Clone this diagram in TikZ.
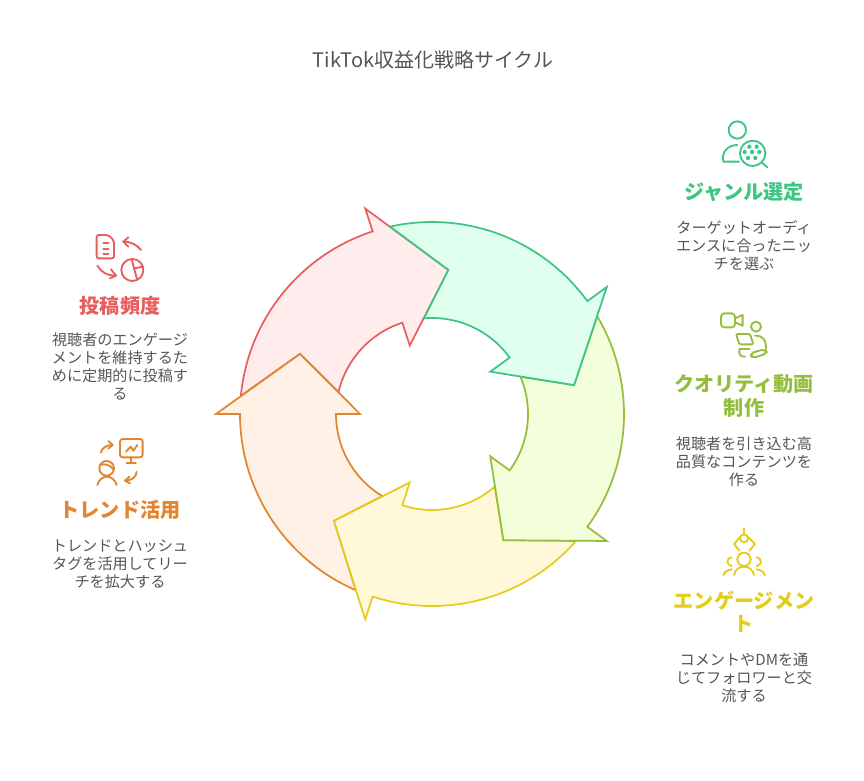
\documentclass[tikz,border=0pt]{standalone}
\usepackage{fontspec}
\setmainfont{Noto Sans CJK JP}
\definecolor{tealline}{HTML}{3CC583}
\definecolor{tealfill}{HTML}{E0FFEF}
\definecolor{limeline}{HTML}{93BE3E}
\definecolor{limefill}{HTML}{F2FFDA}
\definecolor{yelline}{HTML}{E3CC1C}
\definecolor{yelfill}{HTML}{FFF9DA}
\definecolor{orgline}{HTML}{E3842F}
\definecolor{orgfill}{HTML}{FFF1E5}
\definecolor{redline}{HTML}{E85E5E}
\definecolor{redfill}{HTML}{FFEDED}
\definecolor{bodygray}{HTML}{555555}
\tikzset{
  titletext/.style={text=bodygray,font=\fontsize{15pt}{18pt}\selectfont},
  headtext/.style={align=center,font=\fontsize{15.1pt}{17.5pt}\selectfont\bfseries},
  bodytext/.style={align=center,text=bodygray,font=\fontsize{11.35pt}{13.5pt}\selectfont},
  iconline/.style={line width=1.4pt,line cap=round,line join=round},
}

\begin{document}
\begin{tikzpicture}[x=0.75pt,y=0.75pt]
  \useasboundingbox (0,0) rectangle (864,-781);
  \node[titletext] (title) at (433,-60) {TikTok収益化戦略サイクル};

  % ring of arrows
  \foreach \ang/\col in {72/red,144/org,216/yel,288/lime,0/teal}{
    \begin{scope}[shift={(432,-414)},rotate=\ang]
      \draw[draw=\col line,fill=\col fill,line width=1.3pt,line join=miter]
        (102.6:192) arc[start angle=102.6,end angle=36,radius=192]
        -- (36:216) -- (11.5:145) -- (36:72) -- (36:96)
        arc[start angle=36,end angle=94.8,radius=96]
        -- (83.5:145) -- cycle;
    \end{scope}
  }

  % right column
  \node[headtext,text=tealline] (genrehead) at (744,-192) {ジャンル選定};
  \node[bodytext] (genrebody) at (744,-246) {ターゲットオーディ\\エンスに合ったニッ\\チを選ぶ};
  \node[headtext,text=limeline] (qualityhead) at (744,-396) {クオリティ動画\\制作};
  \node[bodytext] (qualitybody) at (744,-462) {視聴者を引き込む高\\品質なコンテンツを\\作る};
  \node[headtext,text=yelline] (engagehead) at (744,-612) {エンゲージメン\\ト};
  \node[bodytext] (engagebody) at (744,-678) {コメントやDMを通\\じてフォロワーと交\\流する};

  % left column
  \node[headtext,text=redline] (posthead) at (120,-306) {投稿頻度};
  \node[bodytext] (postbody) at (120,-366) {視聴者のエンゲージ\\メントを維持するた\\めに定期的に投稿す\\る};
  \node[headtext,text=orgline] (trendhead) at (120,-510) {トレンド活用};
  \node[bodytext] (trendbody) at (120,-564) {トレンドとハッシュ\\タグを活用してリー\\チを拡大する};

  % person with magnifier
  \begin{scope}[shift={(660,-110)},x=0.25pt,y=-0.25pt,iconline,draw=tealline]
    \draw (232,60) circle[radius=26];
    \draw (237,155) -- (190,155) .. controls (183,125) and (205,105) .. (232,105);
    \draw (278,130) circle[radius=38];
    \draw (305,157) -- (322,172);
    \foreach \dx/\dy in {268/110,290/110,254/126,276/126,298/126,264/144,286/144}
      \fill[tealline] (\dx,\dy) circle[radius=6.5];
  \end{scope}

  % camera, person at laptop
  \begin{scope}[shift={(660,-305)},x=0.25pt,y=-0.25pt,iconline,draw=limeline]
    \draw[rounded corners=2.5pt] (183,25) rectangle (225,67);
    \draw (225,40) -- (248,30) -- (248,62) -- (225,52);
    \draw (288,65) circle[radius=15];
    \draw (285,92) .. controls (310,92) and (318,105) .. (318,130);
    \draw[rounded corners=1pt] (228,87) -- (270,87) -- (280,118) -- (238,118) -- cycle;
    \draw (238,132) -- (268,132);
    \draw (238,135) .. controls (236,150) and (242,155) .. (255,155);
    \draw[rounded corners=3pt] (270,145) -- (315,132) -- (322,145) -- (277,160) -- cycle;
  \end{scope}

  % claw over people
  \begin{scope}[shift={(660,-520)},x=0.25pt,y=-0.25pt,iconline,draw=yelline]
    \draw (252,25) -- (252,43);
    \draw (252,55) circle[radius=12];
    \draw (241,50) -- (222,72) -- (238,92);
    \draw (263,50) -- (285,72) -- (268,92);
    \draw (252,118) circle[radius=20];
    \draw (222,165) .. controls (226,148) and (238,140) .. (252,140) .. controls (266,140) and (278,148) .. (282,165);
    \draw (215,112) .. controls (198,114) and (198,136) .. (215,138);
    \draw (290,112) .. controls (307,114) and (307,136) .. (290,138);
    \draw (190,165) .. controls (195,155) and (203,150) .. (215,148);
    \draw (315,165) .. controls (310,155) and (302,150) .. (290,148);
  \end{scope}

  % document, pie chart
  \begin{scope}[shift={(40,-225)},x=0.25pt,y=-0.25pt,iconline,draw=redline]
    \draw[rounded corners=1.5pt] (205,30) -- (170,30) -- (170,100) -- (222,100) -- (222,47) -- cycle;
    \foreach \ly in {55,72,88}
      \draw (190,\ly) -- (205,\ly);
    \draw (303,75) .. controls (290,60) and (275,50) .. (250,50);
    \draw (265,37) -- (250,50) -- (265,65);
    \draw (172,122) .. controls (182,140) and (200,152) .. (228,152);
    \draw (213,133) -- (228,152) -- (210,160);
    \draw (277,135) circle[radius=33];
    \draw (275,102) -- (282,130) -- (310,125);
    \draw (282,130) -- (292,165);
  \end{scope}

  % monitor, person
  \begin{scope}[shift={(40,-430)},x=0.25pt,y=-0.25pt,iconline,draw=orgline]
    \draw[rounded corners=2pt] (240,27) rectangle (308,82);
    \draw (274,82) -- (274,100);
    \draw (260,100) -- (288,100);
    \draw (258,65) -- (272,50) -- (280,62) -- (292,45);
    \draw (183,68) .. controls (185,55) and (198,45) .. (218,45);
    \draw (205,33) -- (218,45) -- (205,56);
    \draw (200,115) circle[radius=22];
    \draw (180,105) .. controls (195,100) and (210,105) .. (220,118);
    \draw (172,165) .. controls (176,150) and (188,140) .. (200,140) .. controls (214,140) and (226,150) .. (230,165);
    \draw (290,125) .. controls (290,140) and (275,152) .. (255,152);
    \draw (268,140) -- (255,152) -- (270,160);
  \end{scope}
\end{tikzpicture}
\end{document}
